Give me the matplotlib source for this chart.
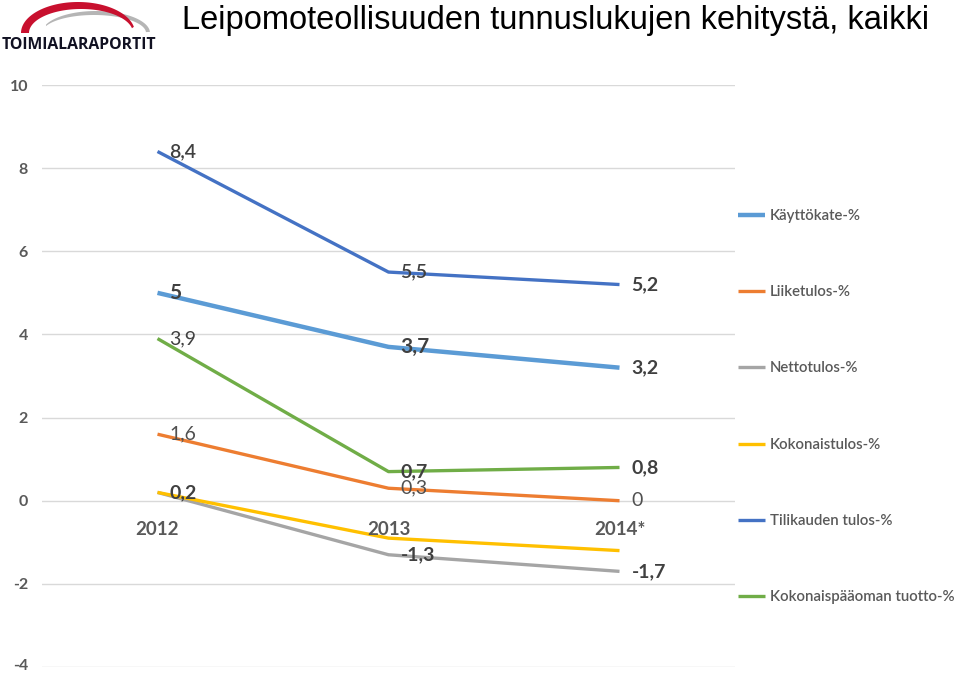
import matplotlib
matplotlib.use("Agg")
import matplotlib.pyplot as plt
import matplotlib.transforms as mtransforms
import numpy as np
from matplotlib.patches import Polygon

# ---- data ----
years = ["2012", "2013", "2014*"]
series_names = ["Käyttökate-%", "Liiketulos-%", "Nettotulos-%",
                "Kokonaistulos-%", "Tilikauden tulos-%", "Kokonaispääoman tuotto-%"]
kayttokate = [5.0, 3.7, 3.2]
liiketulos = [1.6, 0.3, 0.0]
nettotulos = [0.2, -1.3, -1.7]
kokonaistulos = [0.2, -0.9, -1.2]
tilikauden = [8.4, 5.5, 5.2]
kokonaispaaoma = [3.9, 0.7, 0.8]
labels_kayttokate = ["5", "3,7", "3,2"]
labels_liiketulos = ["1,6", "0,3", "0"]
labels_nettotulos = ["0,2", "-1,3", "-1,7"]
labels_tilikauden = ["8,4", "5,5", "5,2"]
labels_kokonaispaaoma = ["3,9", "0,7", "0,8"]
yticks = [-4, -2, 0, 2, 4, 6, 8, 10]

colors = ["#5B9BD5", "#ED7D31", "#A5A5A5", "#FFC000", "#4472C4", "#70AD47"]
widths = [3.2, 2.4, 2.4, 2.4, 2.4, 2.4]
values = [kayttokate, liiketulos, nettotulos, kokonaistulos, tilikauden, kokonaispaaoma]

FONT = ["Lato", "DejaVu Sans"]
plt.rcParams['font.family'] = FONT

fig = plt.figure(figsize=(9.6, 6.73), dpi=100)
ax = fig.add_axes([42/960, 1-667/673, (735-42)/960, (667-85)/673])
x = np.arange(len(years))

handles = []
for name, vals, c, lw in zip(series_names, values, colors, widths):
    h, = ax.plot(x, vals, color=c, lw=lw, solid_capstyle='butt', label=name, zorder=3)
    handles.append(h)

ax.set_xlim(-0.5, 2.5)
ax.set_ylim(-4, 10)
ax.set_yticks(yticks)
ax.set_yticklabels([str(t) for t in yticks], fontsize=11.5, fontweight='bold', color="#595959")
ax.tick_params(axis='y', length=0, pad=10)
ax.set_xticks([])
for s in ax.spines.values():
    s.set_visible(False)
ax.grid(axis='y', color="#D9D9D9", lw=1.0, zorder=0)
# nudge the lowest tick label so it stays inside the canvas
for lab in ax.get_yticklabels():
    if lab.get_text() == "-4":
        lab.set_transform(lab.get_transform() +
                          mtransforms.ScaledTranslation(0, 3/100, fig.dpi_scale_trans))

# category labels just below the zero line
for xi, yr in zip(x, years):
    ax.annotate(yr, (xi, 0), xytext=(0, -29), textcoords='offset pixels',
                ha='center', va='center', fontsize=13.5, fontweight='bold', color="#595959")

# data labels
def add_labels(vals, labs, weights, sizes, color="#404040"):
    for xi, v, lab, w, s in zip(x, vals, labs, weights, sizes):
        ax.annotate(lab, (xi, v), xytext=(12, 0), textcoords='offset pixels',
                    ha='left', va='center', fontsize=s, fontweight=w, color=color, zorder=5)

add_labels(tilikauden, labels_tilikauden, ['semibold', 'semibold', 'bold'], [14, 14, 14])
add_labels(kayttokate, labels_kayttokate, ['bold', 'bold', 'bold'], [15, 15, 14])
add_labels(kokonaispaaoma, labels_kokonaispaaoma, ['normal', 'bold', 'bold'], [14, 14, 14])
add_labels(liiketulos, labels_liiketulos, ['normal', 'normal', 'normal'], [14, 14, 14], "#505050")
add_labels(nettotulos, labels_nettotulos, ['bold', 'bold', 'bold'], [14, 14, 14])

# legend
leg = fig.legend(handles=handles, loc='upper left', bbox_to_anchor=(732/960, 1-203/673),
                 frameon=False, fontsize=10.8, handlelength=1.8, handletextpad=0.33,
                 labelspacing=4.15, borderaxespad=0)
for t in leg.get_texts():
    t.set_color("#595959")
    t.set_fontweight('semibold')

# title
fig.text(182/960, 1-20/673, "Leipomoteollisuuden tunnuslukujen kehitystä, kaikki",
         ha='left', va='center', fontsize=23.5, family=["Liberation Sans"], color="#000000")

# logo
lax = fig.add_axes([0, 1-56/673, 160/960, 56/673])
lax.set_xlim(0, 160)
lax.set_ylim(56, 0)
lax.axis('off')
# gray swoosh
tg = np.linspace(0.05, 2.75, 100)
gx_o = 96 + 54*np.cos(tg); gy_o = 33 - 22*np.sin(tg)
gx_i = 94 + 52*np.cos(tg[::-1]); gy_i = 33 - 18*np.sin(tg[::-1])
lax.add_patch(Polygon(np.column_stack([np.r_[gx_o, gx_i], np.r_[gy_o, gy_i]]),
                      closed=True, color="#B5B5B5", lw=0))
# red arc
tr = np.linspace(0.2, np.pi, 100)
rx_o = 78 + 57*np.cos(tr); ry_o = 33 - 31*np.sin(tr)
rx_i = 81 + 52*np.cos(tr[::-1]); ry_i = 33 - 24*np.sin(tr[::-1])
lax.add_patch(Polygon(np.column_stack([np.r_[rx_o, rx_i], np.r_[ry_o, ry_i]]),
                      closed=True, color="#C8102E", lw=0))
lax.text(79, 45, "TOIMIALARAPORTIT", ha='center', va='center', fontsize=11.3,
         fontweight='bold', family=["Open Sans", "DejaVu Sans"], color="#111122")

fig.savefig("out.png", dpi=100)
